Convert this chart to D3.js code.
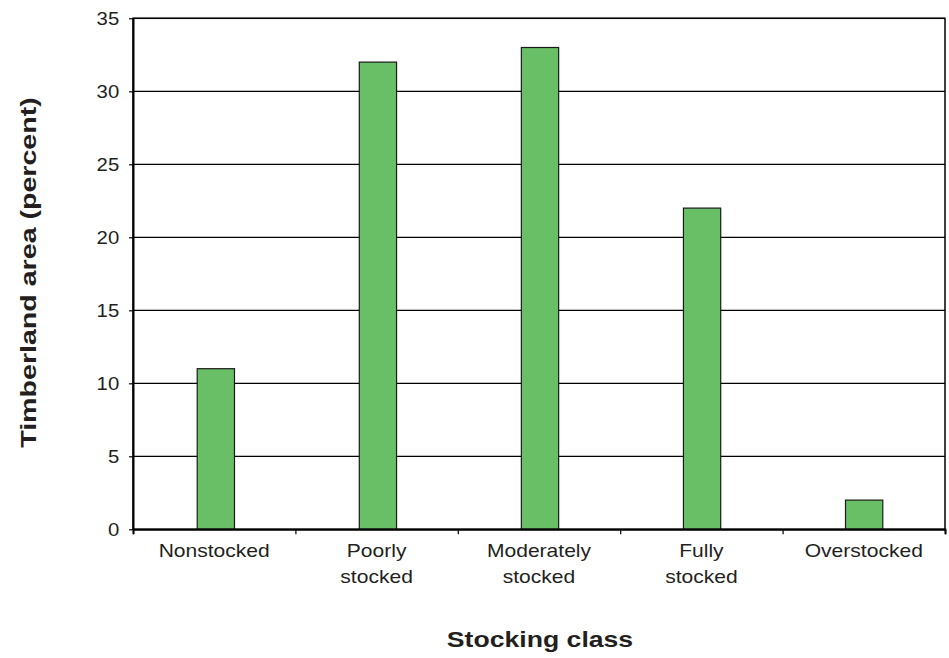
<!DOCTYPE html>
<html>
<head>
<meta charset="utf-8">
<script src="https://cdn.jsdelivr.net/npm/d3@7"></script>
<style>
  body { margin: 0; background: #fff; }
  svg { display: block; font-family: "Liberation Sans", Arial, sans-serif; }
</style>
</head>
<body>
<svg id="chart" width="949" height="658"></svg>
<script>
const categories = ["Nonstocked", "Poorly\nstocked", "Moderately\nstocked", "Fully\nstocked", "Overstocked"];
const values = [11, 32, 33, 22, 2];
const yTicks = [0, 5, 10, 15, 20, 25, 30, 35];
const yTitle = "Timberland area (percent)";
const xTitle = "Stocking class";

const svg = d3.select("#chart");
const m = { left: 133, right: 945, top: 18.3, bottom: 529.3 };
const textColor = "#231f20";

const x = d3.scaleBand().domain(categories).range([m.left, m.right]).paddingInner(0.77).paddingOuter(0.39);
const y = d3.scaleLinear().domain([0, 35]).range([m.bottom, m.top]);

// gridlines
svg.append("g").selectAll("line").data(yTicks).join("line")
  .attr("x1", m.left).attr("x2", m.right)
  .attr("y1", d => y(d)).attr("y2", d => y(d))
  .attr("stroke", "#000").attr("stroke-width", 1.2);

// bars
svg.append("g").selectAll("rect").data(values).join("rect")
  .attr("x", (d, i) => x(categories[i]) + 1)
  .attr("width", x.bandwidth())
  .attr("y", d => y(d))
  .attr("height", d => y(0) - y(d))
  .attr("fill", "#69BF66")
  .attr("stroke", "#1a1a1a").attr("stroke-width", 1.2);

// frame
svg.append("rect").attr("x", m.left).attr("y", m.top)
  .attr("width", m.right - m.left).attr("height", m.bottom - m.top)
  .attr("fill", "none").attr("stroke", "#000").attr("stroke-width", 1.5);

// y axis
const yAxis = d3.axisLeft(y).tickValues(yTicks).tickSize(4).tickSizeOuter(0);
const gy = svg.append("g").attr("transform", `translate(${m.left},0)`).call(yAxis);
gy.select(".domain").attr("stroke", "#000").attr("stroke-width", 2);
gy.selectAll(".tick line").attr("stroke", "#000").attr("stroke-width", 1.2);
gy.selectAll(".tick text")
  .attr("font-size", 18).attr("fill", textColor)
  .attr("font-family", "Liberation Sans, Arial, sans-serif")
  .attr("x", -12.2).attr("dy", "0.36em")
  .attr("transform", "scale(1.13,1)");

// x axis ticks at band boundaries
const xb = d3.scaleLinear().domain([0, categories.length]).range([m.left, m.right]);
const xAxis = d3.axisBottom(xb).tickValues(d3.range(categories.length + 1)).tickSize(5).tickFormat("");
const gx = svg.append("g").attr("transform", `translate(0,${m.bottom})`).call(xAxis);
gx.select(".domain").attr("stroke", "#000").attr("stroke-width", 2);
gx.selectAll(".tick line").attr("stroke", "#000").attr("stroke-width", 1.2);

// category labels
const labels = svg.append("g").selectAll("text").data(categories).join("text")
  .attr("transform", (d, i) => `translate(${xb(i + 0.5)},557) scale(1.17,1)`)
  .attr("text-anchor", "middle")
  .attr("font-size", 18).attr("fill", textColor);
labels.each(function(d) {
  const t = d3.select(this);
  d.split("\n").forEach((line, k) => {
    t.append("tspan").attr("x", 0).attr("dy", k === 0 ? 0 : 26.5).text(line);
  });
});

// titles
svg.append("text")
  .attr("transform", `translate(35.5,${272.5}) rotate(-90) scale(1.3,1)`)
  .attr("text-anchor", "middle")
  .attr("font-size", 22).attr("font-weight", "bold").attr("fill", textColor)
  .text(yTitle);

svg.append("text")
  .attr("transform", `translate(540,647) scale(1.21,1)`)
  .attr("text-anchor", "middle")
  .attr("font-size", 22).attr("font-weight", "bold").attr("fill", textColor)
  .text(xTitle);
</script>
</body>
</html>
